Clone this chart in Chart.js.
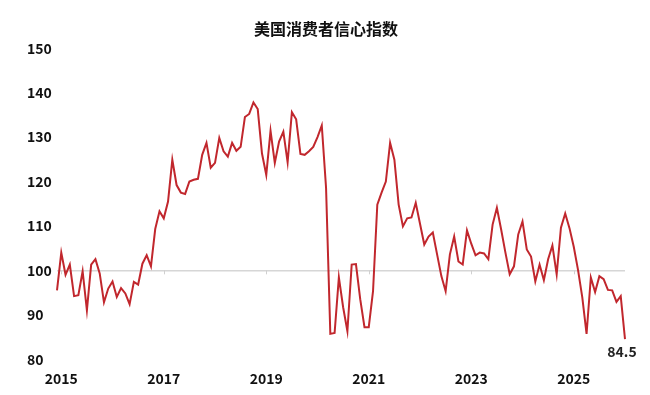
<!DOCTYPE html>
<html>
<head>
  <meta charset="UTF-8">
  <title>美国消费者信心指数</title>
  <script src="https://cdn.jsdelivr.net/npm/chart.js"></script>
  <style>
    html, body { margin: 0; padding: 0; background: #fff; }
    #wrap { width: 650px; height: 395px; }
  </style>
</head>
<body>
  <div id="wrap"><canvas id="cci"></canvas></div>

  <script>
    // 2014-12 .. 2026-01, monthly
    const startYear = 2014;
    const startMonth = 12;
    const yearTicks = [2015, 2017, 2019, 2021, 2023, 2025];
    const yTicks = [80, 90, 100, 110, 120, 130, 140, 150];
    const lastLabel = '84.5';

    const v2014 = [95.5];
    const v2015 = [104.0, 99.0, 101.3, 94.2, 94.4, 99.8, 91.0, 101.3, 102.5, 99.3, 92.8, 95.9];
    const v2016 = [97.5, 94.0, 96.0, 94.8, 92.4, 97.4, 96.8, 101.5, 103.4, 100.9, 109.3, 113.3];
    const v2017 = [111.7, 115.5, 124.9, 119.2, 117.5, 117.2, 120.0, 120.4, 120.6, 126.0, 128.7, 123.1];
    const v2018 = [124.2, 129.8, 126.8, 125.6, 128.7, 126.9, 127.8, 134.5, 135.2, 137.8, 136.3, 126.3];
    const v2019 = [121.5, 131.4, 124.2, 129.0, 131.2, 124.3, 135.6, 134.0, 126.2, 126.0, 126.8, 127.8];
    const v2020 = [130.0, 132.6, 118.6, 85.7, 85.9, 98.4, 91.7, 86.3, 101.3, 101.4, 93.5, 87.2];
    const v2021 = [87.2, 95.3, 114.8, 117.5, 120.0, 128.7, 124.9, 114.8, 109.9, 111.7, 111.9, 115.2];
    const v2022 = [110.5, 105.8, 107.6, 108.5, 103.6, 98.7, 95.3, 103.6, 107.6, 102.0, 101.3, 109.0];
    const v2023 = [106.0, 103.4, 104.0, 103.8, 102.5, 110.3, 114.1, 109.2, 104.0, 99.1, 100.9, 108.1];
    const v2024 = [111.0, 104.7, 103.1, 97.5, 101.3, 97.8, 102.5, 105.6, 99.1, 109.6, 112.8, 109.5];
    const v2025 = [105.3, 100.1, 93.9, 85.7, 98.4, 95.1, 98.7, 98.0, 95.6, 95.5, 92.9, 94.2];
    const v2026 = [84.5];

    const values = [].concat(v2014, v2015, v2016, v2017, v2018, v2019, v2020,
      v2021, v2022, v2023, v2024, v2025, v2026);

    const labels = values.map((_, i) => {
      const m0 = startMonth - 1 + i;
      const y = startYear + Math.floor(m0 / 12);
      const m = (m0 % 12) + 1;
      return y + '-' + String(m).padStart(2, '0');
    });

    const isYearTick = (lbl) => lbl.endsWith('-01') && yearTicks.includes(+lbl.slice(0, 4));

    const fontFam = '"Noto Sans CJK SC", "Noto Sans", sans-serif';
    const red = '#c1272d';

    // small tick marks on the 100 line + last value label
    const extras = {
      id: 'extras',
      afterDatasetsDraw(chart) {
        const { ctx, scales: { x, y } } = chart;
        const y100 = y.getPixelForValue(100);
        ctx.save();
        ctx.strokeStyle = '#d0d0d0';
        ctx.lineWidth = 1;
        labels.forEach((lbl, i) => {
          if (!isYearTick(lbl)) return;
          const px = Math.round(x.getPixelForValue(i)) + 0.5;
          ctx.beginPath();
          ctx.moveTo(px, y100);
          ctx.lineTo(px, y100 + 4);
          ctx.stroke();
        });
        const li = values.length - 1;
        ctx.fillStyle = '#222';
        ctx.font = 'bold 14px ' + fontFam;
        ctx.textAlign = 'center';
        ctx.textBaseline = 'top';
        ctx.fillText(lastLabel, x.getPixelForValue(li) - 3, y.getPixelForValue(values[li]) + 5);
        ctx.restore();
      }
    };

    new Chart(document.getElementById('cci'), {
      type: 'line',
      data: {
        labels: labels,
        datasets: [{
          data: values,
          borderColor: red,
          borderWidth: 2,
          pointRadius: 0,
          tension: 0,
          fill: false
        }]
      },
      options: {
        responsive: true,
        maintainAspectRatio: false,
        animation: false,
        layout: { padding: { left: 27, right: 25, top: 10, bottom: 5 } },
        plugins: {
          legend: { display: false },
          tooltip: { enabled: false },
          title: {
            display: true,
            text: '美国消费者信心指数',
            color: '#111',
            font: { family: fontFam, size: 16, weight: 'bold' },
            padding: { top: 9, bottom: 10 }
          }
        },
        scales: {
          x: {
            grid: { display: false },
            border: { display: false },
            ticks: {
              autoSkip: false,
              maxRotation: 0,
              padding: 3,
              color: '#111',
              font: { family: fontFam, size: 14, weight: 'bold' },
              callback: (val, i) => isYearTick(labels[i]) ? labels[i].slice(0, 4) : ''
            }
          },
          y: {
            min: 80,
            max: 150,
            afterBuildTicks: (axis) => { axis.ticks = yTicks.map(v => ({ value: v })); },
            afterFit: (axis) => { axis.width = 30; },
            border: { display: false },
            grid: {
              drawTicks: false,
              color: (c) => c.tick && c.tick.value === 100 ? '#d6d6d6' : 'rgba(0,0,0,0)',
              lineWidth: 1.5
            },
            ticks: {
              padding: 4,
              crossAlign: 'far',
              color: '#111',
              font: { family: fontFam, size: 14, weight: 'bold' }
            }
          }
        }
      },
      plugins: [extras]
    });
  </script>
</body>
</html>
